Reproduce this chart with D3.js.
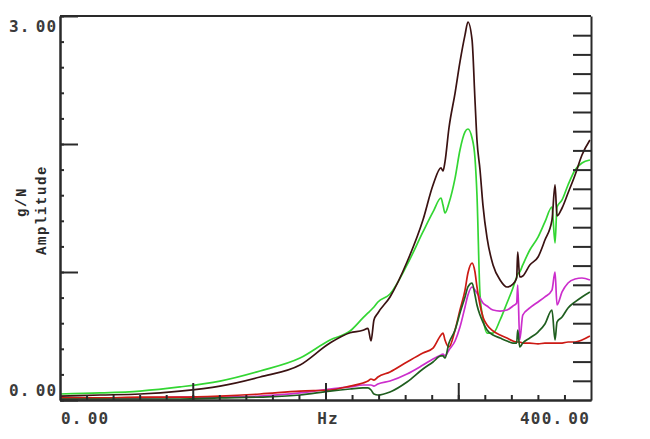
<!DOCTYPE html>
<html>
<head>
<meta charset="utf-8">
<script src="https://cdn.jsdelivr.net/npm/d3@7"></script>
<style>
  html, body { margin: 0; padding: 0; background: #fff; }
  svg { display: block; }
  .lbl { font-family: "DejaVu Sans Mono", monospace; font-size: 16px; font-weight: bold; fill: #3a3a3a; letter-spacing: 1.2px; }
  .ttl { font-family: "Liberation Mono", monospace; font-size: 14px; font-weight: bold; fill: #2a2a2a; letter-spacing: 1.6px; }
</style>
</head>
<body>
<script>
// ---- data ----
const freqHz = [0, 30.1, 60.3, 90.4, 120.5, 150.7, 180.8, 203.4, 218.5, 228.2, 232.0, 234.3, 236.5, 239.5, 248.6,
  261.4, 273.4, 281.0, 287.0, 288.5, 290.0, 293.0, 297.6, 301.3, 305.1, 307.3, 310.4, 312.6, 314.1, 316.4,
  318.6, 321.7, 326.2, 331.5, 336.7, 341.2, 344.0, 344.8, 346.3, 348.6, 353.9, 360.1, 365.3, 370.6, 372.9,
  374.4, 378.2, 382.7, 388.0, 393.2, 399.2];

const brownAmp = [0.031, 0.039, 0.047, 0.070, 0.109, 0.180, 0.273, 0.445, 0.525, 0.545, 0.560, 0.461, 0.625, 0.680, 0.805,
  1.078, 1.406, 1.680, 1.813, 1.789, 1.860, 2.125, 2.398, 2.641, 2.852, 2.953, 2.813, 2.344, 2.031, 1.797,
  1.523, 1.266, 1.055, 0.938, 0.883, 0.906, 0.953, 1.156, 0.961, 0.969, 1.055, 1.117, 1.250, 1.406, 1.680,
  1.438, 1.500, 1.617, 1.758, 1.914, 2.031];

const greenAmp = [0.047, 0.055, 0.070, 0.102, 0.148, 0.227, 0.328, 0.469, 0.539, 0.641, 0.680, 0.703, 0.727, 0.766, 0.828,
  1.055, 1.313, 1.469, 1.578, 1.523, 1.461, 1.539, 1.734, 1.953, 2.094, 2.117, 2.047, 1.891, 1.602, 0.820,
  0.641, 0.523, 0.523, 0.625, 0.758, 0.875, 0.961, 0.984, 1.000, 1.055, 1.172, 1.273, 1.391, 1.508, 1.227,
  1.508, 1.563, 1.680, 1.797, 1.852, 1.875];

const redAmp = [0.016, 0.016, 0.023, 0.023, 0.031, 0.047, 0.070, 0.078, 0.109, 0.133, 0.148, 0.164, 0.156, 0.180, 0.219,
  0.297, 0.367, 0.406, 0.508, 0.523, 0.469, 0.414, 0.547, 0.703, 0.859, 0.992, 1.070, 1.000, 0.883, 0.742,
  0.648, 0.586, 0.539, 0.508, 0.484, 0.461, 0.453, 0.453, 0.453, 0.445, 0.445, 0.438, 0.445, 0.445, 0.445,
  0.445, 0.445, 0.453, 0.453, 0.469, 0.500];

const magentaAmp = [0.008, 0.008, 0.016, 0.023, 0.023, 0.031, 0.055, 0.086, 0.102, 0.117, 0.117, 0.117, 0.109, 0.125, 0.148,
  0.203, 0.273, 0.320, 0.352, 0.359, 0.344, 0.391, 0.461, 0.570, 0.727, 0.820, 0.883, 0.859, 0.836, 0.797,
  0.758, 0.734, 0.703, 0.695, 0.703, 0.734, 0.758, 0.898, 0.469, 0.664, 0.719, 0.766, 0.805, 0.859, 1.000,
  0.742, 0.844, 0.914, 0.945, 0.953, 0.938];

const darkGreenAmp = [0.008, 0.008, 0.008, 0.008, 0.016, 0.023, 0.039, 0.070, 0.086, 0.094, 0.094, 0.078, 0.047, 0.039, 0.063,
  0.141, 0.242, 0.297, 0.344, 0.344, 0.328, 0.445, 0.547, 0.680, 0.805, 0.883, 0.914, 0.820, 0.742, 0.664,
  0.609, 0.547, 0.508, 0.484, 0.461, 0.445, 0.445, 0.547, 0.414, 0.445, 0.484, 0.531, 0.594, 0.703, 0.469,
  0.609, 0.648, 0.719, 0.766, 0.805, 0.844];

const seriesNames = ["green", "magenta", "red", "darkgreen", "brown"];
const seriesColors = ["#33d633", "#cc2ecc", "#cc1a14", "#1f5e1f", "#3a1212"];
const seriesValues = [greenAmp, magentaAmp, redAmp, darkGreenAmp, brownAmp];

const yLabelsLeft = [3, 0];
const xLabels = [0, 400];
const xUnit = "Hz";
const yTitle = "Amplitude";
const yUnit = "g/N";

// ---- drawing ----
const W = 650, H = 439;
const m = { left: 60, right: 59, top: 16, bottom: 39 };
const svg = d3.select("body").append("svg").attr("width", W).attr("height", H);

const x = d3.scaleLinear().domain([0, 400]).range([m.left, W - m.right]);
const y = d3.scaleLinear().domain([0, 3]).range([H - m.bottom, m.top]);

const axisColor = "#2a2a2a";

// lines
const line = d3.line().x((d, i) => x(freqHz[i])).y(d => y(d)).curve(d3.curveMonotoneX);
seriesValues.forEach((vals, k) => {
  svg.append("path")
    .datum(vals)
    .attr("fill", "none")
    .attr("stroke", seriesColors[k])
    .attr("stroke-width", 1.7)
    .attr("stroke-linejoin", "round")
    .attr("d", line);
});

function styleAxis(g) {
  g.selectAll("path.domain").attr("stroke", axisColor).attr("stroke-width", 2);
  g.selectAll(".tick line").attr("stroke", axisColor).attr("stroke-width", 2);
  g.selectAll(".tick text").remove();
}

// left axis: minor + major ticks pointing inward
svg.append("g").attr("transform", `translate(${x(0)},0)`)
  .call(d3.axisRight(y).tickValues(d3.range(0, 3.001, 0.2)).tickSize(4).tickSizeOuter(0))
  .call(styleAxis);
svg.append("g").attr("transform", `translate(${x(0)},0)`)
  .call(d3.axisRight(y).tickValues([0, 1, 2, 3]).tickSize(18).tickSizeOuter(0))
  .call(styleAxis);

// right axis: ticks pointing inward
svg.append("g").attr("transform", `translate(${x(400)},0)`)
  .call(d3.axisLeft(y).tickValues(d3.range(0.15, 2.95, 0.15)).tickSize(18).tickSizeOuter(0))
  .call(styleAxis);

// bottom axis
svg.append("g").attr("transform", `translate(0,${y(0)})`)
  .call(d3.axisTop(x).tickValues(d3.range(20, 400, 20)).tickSize(5).tickSizeOuter(0))
  .call(styleAxis);
svg.append("g").attr("transform", `translate(0,${y(0)})`)
  .call(d3.axisTop(x).tickValues([100, 200, 300]).tickSize(17).tickSizeOuter(0))
  .call(styleAxis);

// top border
svg.append("line")
  .attr("x1", x(0)).attr("x2", x(400)).attr("y1", y(3)).attr("y2", y(3))
  .attr("stroke", axisColor).attr("stroke-width", 2);

function numLabel(sel, v) {
  const s = v.toFixed(2);
  const parts = s.split(".");
  sel.append("tspan").text(parts[0] + ".");
  sel.append("tspan").attr("dx", 5).text(parts[1]);
}

// y labels (left)
yLabelsLeft.forEach(v => {
  const t = svg.append("text").attr("class", "lbl")
    .attr("x", 9).attr("y", y(v) + (v === 3 ? 16 : -4));
  numLabel(t, v);
});

// x labels
svg.append("text").attr("class", "lbl").attr("x", x(xLabels[0]) + 1).attr("y", 424)
  .call(t => numLabel(t, xLabels[0]));
svg.append("text").attr("class", "lbl").attr("x", x(xLabels[1]) - 1).attr("y", 424)
  .attr("text-anchor", "end")
  .call(t => numLabel(t, xLabels[1]));
svg.append("text").attr("class", "lbl").attr("x", 328).attr("y", 424)
  .attr("text-anchor", "middle").text(xUnit);

// y titles
svg.append("text").attr("class", "ttl")
  .attr("transform", "translate(42,210) rotate(-90)")
  .attr("text-anchor", "middle").attr("dominant-baseline", "middle")
  .text(yTitle);
svg.append("text").attr("class", "ttl")
  .attr("transform", "translate(22,202) rotate(-90)")
  .attr("text-anchor", "middle").attr("dominant-baseline", "middle")
  .text(yUnit);
</script>
</body>
</html>
